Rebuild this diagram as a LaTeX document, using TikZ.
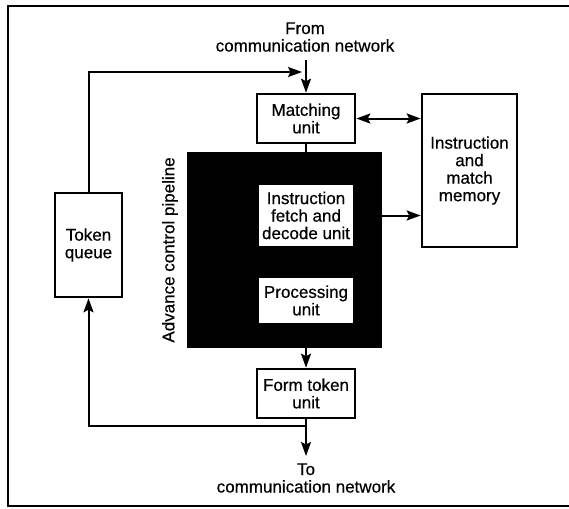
\documentclass[tikz,border=0pt]{standalone}
\usepackage{fontspec}
\setmainfont{Liberation Sans}
\newfontfamily\labelfont{Liberation Sans}[FakeBold=0.5]
\usetikzlibrary{arrows.meta}

\begin{document}
\begin{tikzpicture}[x=1pt, y=-1pt,
  every node/.style={font=\labelfont\fontsize{17}{17.5}\selectfont, align=center, inner sep=0pt},
  unitbox/.style={draw=black, line width=2.6pt, fill=white},
  innerbox/.style={fill=white},
  conn/.style={line width=2pt},
  arr/.style={conn, -{Stealth[length=14pt, width=10pt, inset=2.5pt]}},
  biarr/.style={conn, {Stealth[length=14pt, width=10pt, inset=2.5pt]}-{Stealth[length=14pt, width=10pt, inset=2.5pt]}},
  frameline/.style={line width=2.4pt}
]
\useasboundingbox (0,0) rectangle (569,508);

% open frame (top, left, bottom)
\draw[frameline] (569,6) -- (8,6) -- (8,506) -- (569,506);

% units
\node[unitbox, minimum width=98pt, minimum height=49pt] (match) at (306,118.5) {Matching\\unit};
\node[unitbox, minimum width=95pt, minimum height=153pt] (mem) at (469.5,170.5) {Instruction\\and\\match\\memory};
\node[unitbox, minimum width=67pt, minimum height=104pt] (token) at (88.5,245) {Token\\queue};
\node[unitbox, minimum width=98pt, minimum height=49pt] (form) at (306,393.5) {Form token\\unit};

% advance control pipeline
\node[fill=black, minimum width=195pt, minimum height=196pt] (pipe) at (284.5,250) {};
\node[innerbox, minimum width=94pt, minimum height=61pt] (ifd) at (306,215.5) {Instruction\\fetch and\\decode unit};
\node[innerbox, minimum width=94pt, minimum height=45pt] (proc) at (306,300.5) {Processing\\unit};
\node[rotate=90] (pipelabel) at (170,250) {Advance control pipeline};

% network labels
\node (fromnet) at (305,37) {From\\communication network};
\node (tonet) at (306,478) {To\\communication network};

% connectors
\coordinate (intop) at (306,60);
\coordinate (loopcorner) at (88.5,72);
\coordinate (looptip) at (302,72);
\coordinate (outtip) at (306,456);
\coordinate (branch) at (306,426);

\draw[arr] (intop) -- (match.north);
\draw[arr] (token.north) -- (loopcorner) -- (looptip);
\draw[conn] (match.south) -- (match.south |- pipe.north);
\draw[biarr] (match.east) -- (mem.west |- match.east);
\draw[arr] (pipe.east |- ifd) -- (mem.west |- ifd);
\draw[arr] (pipe.south -| form) -- (form.north);
\draw[arr] (form.south) -- (outtip);
\draw[arr] (branch) -| (token.south);
\end{tikzpicture}
\end{document}
